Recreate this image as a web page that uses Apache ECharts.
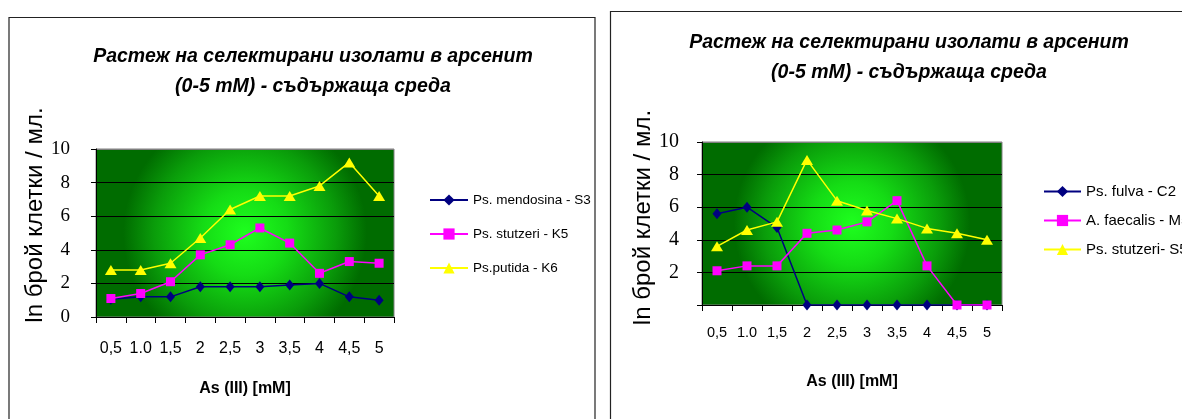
<!DOCTYPE html>
<html>
<head>
<meta charset="utf-8">
<script src="https://cdn.jsdelivr.net/npm/echarts@6/dist/echarts.min.js"></script>
<style>
html,body{margin:0;padding:0;background:#fff;}
#c{width:1182px;height:419px;}
</style>
</head>
<body>
<div id="c"></div>
<script>
// ---- data ----
const categories = ['0,5', '1.0', '1,5', '2', '2,5', '3', '3,5', '4', '4,5', '5'];
const titleText = 'Растеж на селектирани изолати в арсенит\n(0-5 mM) - съдържаща среда';
const yName = 'ln брой клетки / мл.';
const xName = 'As (III) [mM]';

// left chart
const leftNames = ['Ps. mendosina - S3', 'Ps. stutzeri - K5', 'Ps.putida - K6'];
const mendosinaS3 = [1.05, 1.2, 1.2, 1.8, 1.8, 1.8, 1.9, 2.0, 1.2, 1.0];
const stutzeriK5 = [1.1, 1.4, 2.1, 3.7, 4.3, 5.3, 4.4, 2.6, 3.3, 3.2];
const putidaK6 = [2.8, 2.8, 3.2, 4.7, 6.4, 7.2, 7.2, 7.8, 9.2, 7.2];

// right chart
const rightNames = ['Ps. fulva - C2', 'A. faecalis - M5', 'Ps. stutzeri- S5'];
const fulvaC2 = [5.6, 6.0, 4.75, 0, 0, 0, 0, 0, 0, 0];
const faecalisM5 = [2.1, 2.4, 2.4, 4.4, 4.6, 5.1, 6.4, 2.4, 0, 0];
const stutzeriS5 = [3.6, 4.6, 5.1, 8.9, 6.4, 5.8, 5.3, 4.7, 4.4, 4.0];

const yTicks = {min: 0, max: 10, interval: 2};

// ---- styles ----
const NAVY = '#000080', MAGENTA = '#ff00ff', YELLOW = '#ffff00';
const sans = '"Liberation Sans", Arial, sans-serif';
const serif = 'Liberation Serif';

const bg = {
  type: 'radial', x: 0.5, y: 0.5, r: 0.72,
  colorStops: [
    {offset: 0, color: '#1eff1e'},
    {offset: 0.35, color: '#15dc15'},
    {offset: 0.75, color: '#0a9c0a'},
    {offset: 1, color: '#006c00'}
  ]
};

function mkX(gridIndex, fs, margin, nameGap, nameFs) {
  return {
    type: 'category', gridIndex: gridIndex, data: categories, boundaryGap: true,
    axisLine: {show: true, lineStyle: {color: '#000', width: 1}},
    axisTick: {show: true, length: 6, lineStyle: {color: '#000'}},
    axisLabel: {color: '#000', fontFamily: sans, fontSize: fs, margin: margin, interval: 0},
    splitLine: {show: false},
    name: xName, nameLocation: 'middle', nameGap: nameGap,
    nameTextStyle: {color: '#000', fontFamily: sans, fontWeight: 'bold', fontSize: nameFs, verticalAlign: 'top'}
  };
}
function mkY(gridIndex, fs, margin, nameGap, pad, showZero) {
  return {
    type: 'value', gridIndex: gridIndex, min: yTicks.min, max: yTicks.max, interval: yTicks.interval,
    axisLine: {show: true, lineStyle: {color: '#000', width: 1}},
    axisTick: {show: true, length: 5, lineStyle: {color: '#000'}},
    axisLabel: {color: '#000', fontFamily: serif, fontSize: fs, margin: margin,
      formatter: function (v) { return (v === 0 && !showZero) ? '' : String(v); }},
    splitLine: {show: true, lineStyle: {color: ['#000', '#000', '#000', '#000', '#000', '#7f7f7f'], width: 1}},
    name: yName, nameLocation: 'middle', nameGap: nameGap, nameRotate: 90,
    nameTextStyle: {color: '#000', fontFamily: sans, fontSize: 24, padding: pad}
  };
}
function mkSeries(name, data, color, symbol, size, idx) {
  return {
    type: 'line', name: name, data: data, xAxisIndex: idx, yAxisIndex: idx,
    symbol: symbol, symbolSize: size, showSymbol: true,
    lineStyle: {color: color, width: 1.5},
    itemStyle: {color: color, borderColor: color, borderWidth: 0},
    emphasis: {disabled: true}, animation: false
  };
}

const chart = echarts.init(document.getElementById('c'), null, {renderer: 'canvas'});
chart.setOption({
  backgroundColor: '#fff',
  animation: false,
  title: [
    {text: titleText, left: 308, top: 37, textAlign: 'center',
     textStyle: {fontFamily: sans, fontStyle: 'italic', fontWeight: 'bold', fontSize: 19.5, lineHeight: 30, color: '#000'}},
    {text: titleText, left: 904, top: 23, textAlign: 'center',
     textStyle: {fontFamily: sans, fontStyle: 'italic', fontWeight: 'bold', fontSize: 19.5, lineHeight: 30, color: '#000'}}
  ],
  grid: [
    {left: 96, top: 149, width: 298, height: 168, show: true, backgroundColor: bg, borderColor: '#808080', borderWidth: 1},
    {left: 702, top: 142, width: 300, height: 163, show: true, backgroundColor: bg, borderColor: '#808080', borderWidth: 1}
  ],
  xAxis: [mkX(0, 16, 24, 64, 16), mkX(1, 14.5, 20, 69, 16)],
  yAxis: [mkY(0, 19, 26, 43, [0, 0, 0, 36], true), mkY(1, 20, 23, 29, [0, 0, 0, 12], false)],
  legend: [
    {data: leftNames, orient: 'vertical', left: 424, top: 188, itemWidth: 38, itemHeight: 14, itemGap: 20,
     textStyle: {fontFamily: sans, fontSize: 13.5, color: '#000'},
     selectedMode: false},
    {data: rightNames, orient: 'vertical', left: 1038, top: 179, itemWidth: 37, itemHeight: 14, itemGap: 14,
     textStyle: {fontFamily: sans, fontSize: 15, color: '#000'},
     selectedMode: false}
  ],
  series: [
    mkSeries(leftNames[0], mendosinaS3, NAVY, 'diamond', [9, 11], 0),
    mkSeries(leftNames[1], stutzeriK5, MAGENTA, 'rect', 9, 0),
    mkSeries(leftNames[2], putidaK6, YELLOW, 'triangle', [12, 10], 0),
    mkSeries(rightNames[0], fulvaC2, NAVY, 'diamond', [9, 11], 1),
    mkSeries(rightNames[1], faecalisM5, MAGENTA, 'rect', 9, 1),
    mkSeries(rightNames[2], stutzeriS5, YELLOW, 'triangle', [12, 10], 1)
  ],
  graphic: [
    {type: 'rect', shape: {x: 9, y: 17.5, width: 586, height: 460}, style: {fill: 'none', stroke: '#222', lineWidth: 1.2}, silent: true, z: -1},
    {type: 'rect', shape: {x: 610.5, y: 11.5, width: 620, height: 460}, style: {fill: 'none', stroke: '#222', lineWidth: 1.2}, silent: true, z: -1}
  ]
});
</script>
</body>
</html>
